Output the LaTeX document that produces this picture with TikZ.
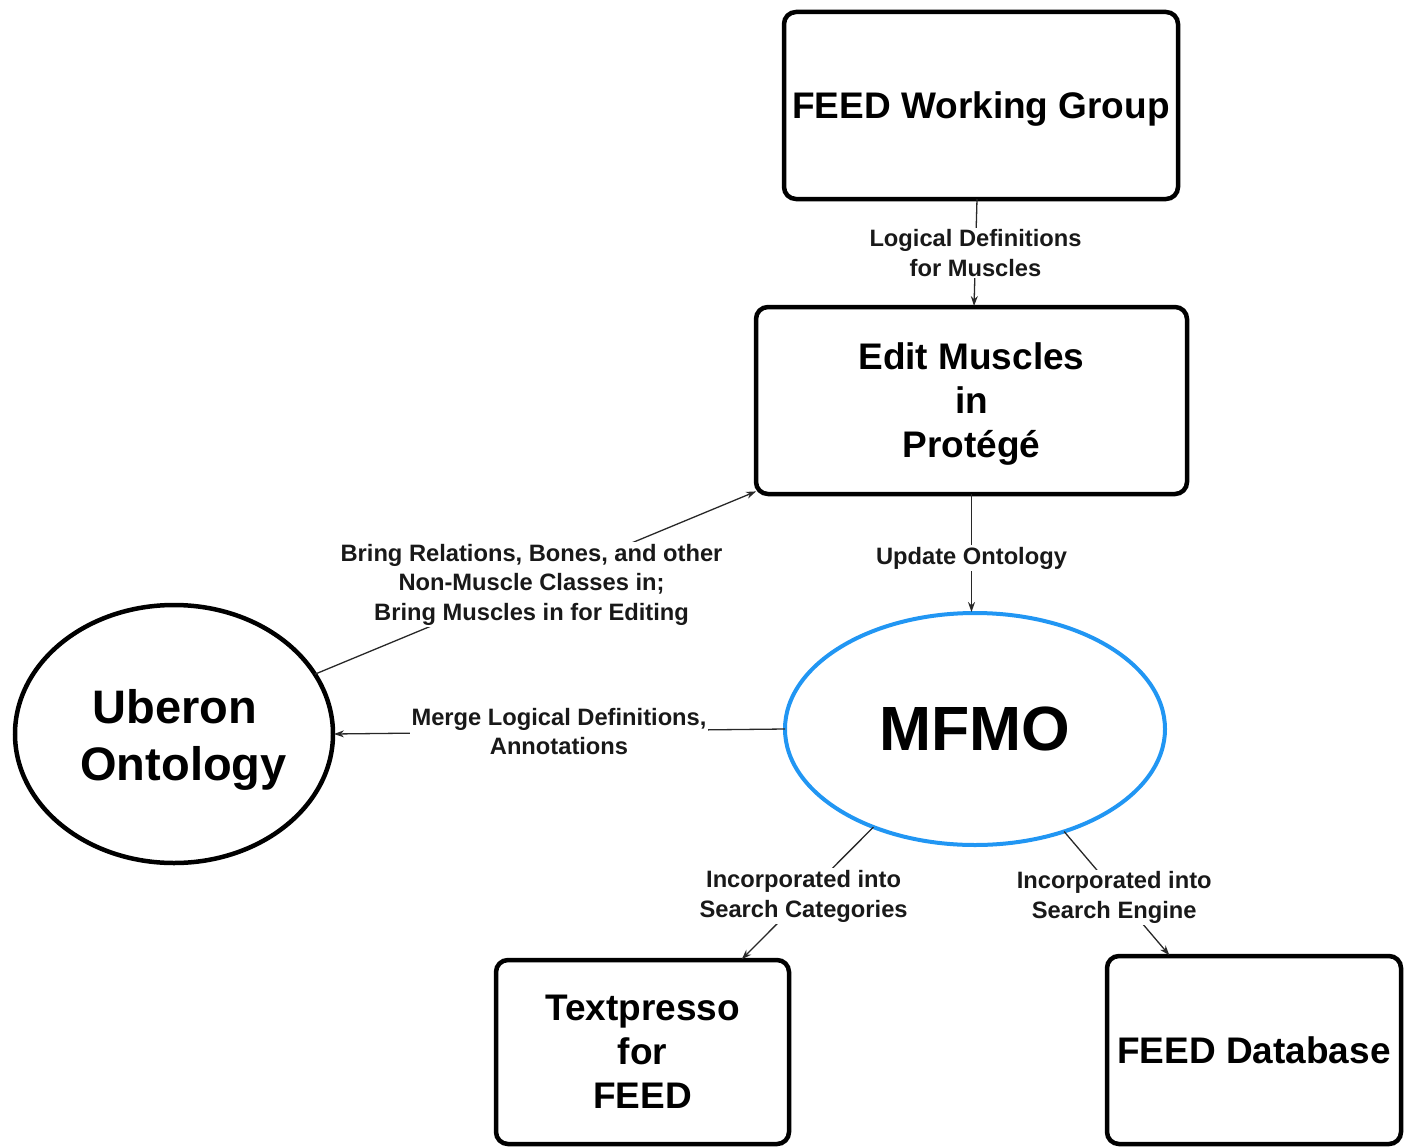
\documentclass[tikz,border=0pt]{standalone}
\usepackage{fontspec}
\setmainfont{Liberation Sans}
\usetikzlibrary{arrows.meta,shapes.geometric}
\definecolor{mfblue}{RGB}{33,150,243}
\definecolor{connc}{RGB}{40,40,40}
\definecolor{lblc}{RGB}{25,25,25}
\begin{document}
\begin{tikzpicture}[x=1pt,y=-1pt,
  box/.style={draw, line width=4.5pt, rounded corners=12pt, inner sep=0pt, outer sep=0pt,
    align=center, font=\bfseries\fontsize{37}{44}\selectfont},
  ell/.style={ellipse, draw, line width=4.5pt, inner sep=0pt, outer sep=0pt},
  bigtxt/.style={inner sep=0pt, font=\bfseries\fontsize{47}{57}\selectfont},
  conn/.style={draw=connc, line width=1.3pt, -{Stealth[length=10pt,width=7pt]}, shorten >=1pt},
  lbl/.style={fill=white, inner sep=2pt, align=center, text=lblc,
    font=\bfseries\fontsize{23.7}{29.5}\selectfont}]
\useasboundingbox (0,0) rectangle (1408,1148);
% nodes
\node[box, text depth=0pt, minimum width=394pt, minimum height=187pt] (wg) at (981,105.5) {FEED Working Group};
\node[box, text depth=0pt, minimum width=431pt, minimum height=187pt] (edit) at (971.5,400.5) {Edit Muscles\\in\\Prot\'eg\'e};
\node[box, minimum width=293pt, minimum height=184pt] (tp) at (642.5,1052) {Textpresso\\for\\FEED};
\node[box, minimum width=294pt, minimum height=188pt] (db) at (1254,1050) {FEED Database};
\node[ell, draw=mfblue, line width=4pt, minimum width=380pt, minimum height=232pt,
  font=\bfseries\fontsize{62.5}{70}\selectfont] (mfmo) at (975,729) {MFMO};
\node[ell, minimum width=318pt, minimum height=258pt] (uberon) at (174,734) {};
\node[bigtxt, anchor=base] (ubt1) at (175,723) {Uberon};
\node[bigtxt, anchor=base] (ubt2) at (183.5,780) {Ontology};
% connectors
\draw[conn] ([xshift=-4pt]wg.south) -- node[lbl] {Logical Definitions\\for Muscles} ([xshift=2.5pt]edit.north);
\draw[conn] (edit.south) -- node[lbl, pos=0.54] {Update Ontology} (edit.south |- mfmo.north);
\draw[conn] (uberon.23) -- node[lbl, pos=0.49] {Bring Relations, Bones, and other\\Non-Muscle Classes in;\\Bring Muscles in for Editing} ([shift={(1,-3)}]edit.south west);
\draw[conn] (mfmo.west) -- node[lbl] {Merge Logical Definitions,\\Annotations} (uberon.east);
\draw[conn] (mfmo.224) -- node[lbl, pos=0.52, xshift=-1pt] {Incorporated into\\Search Categories} ([xshift=98.5pt]tp.north);
\draw[conn] (mfmo.311) -- node[lbl, pos=0.53, xshift=-6pt] {Incorporated into\\Search Engine} ([xshift=-84pt]db.north);
\end{tikzpicture}
\end{document}
